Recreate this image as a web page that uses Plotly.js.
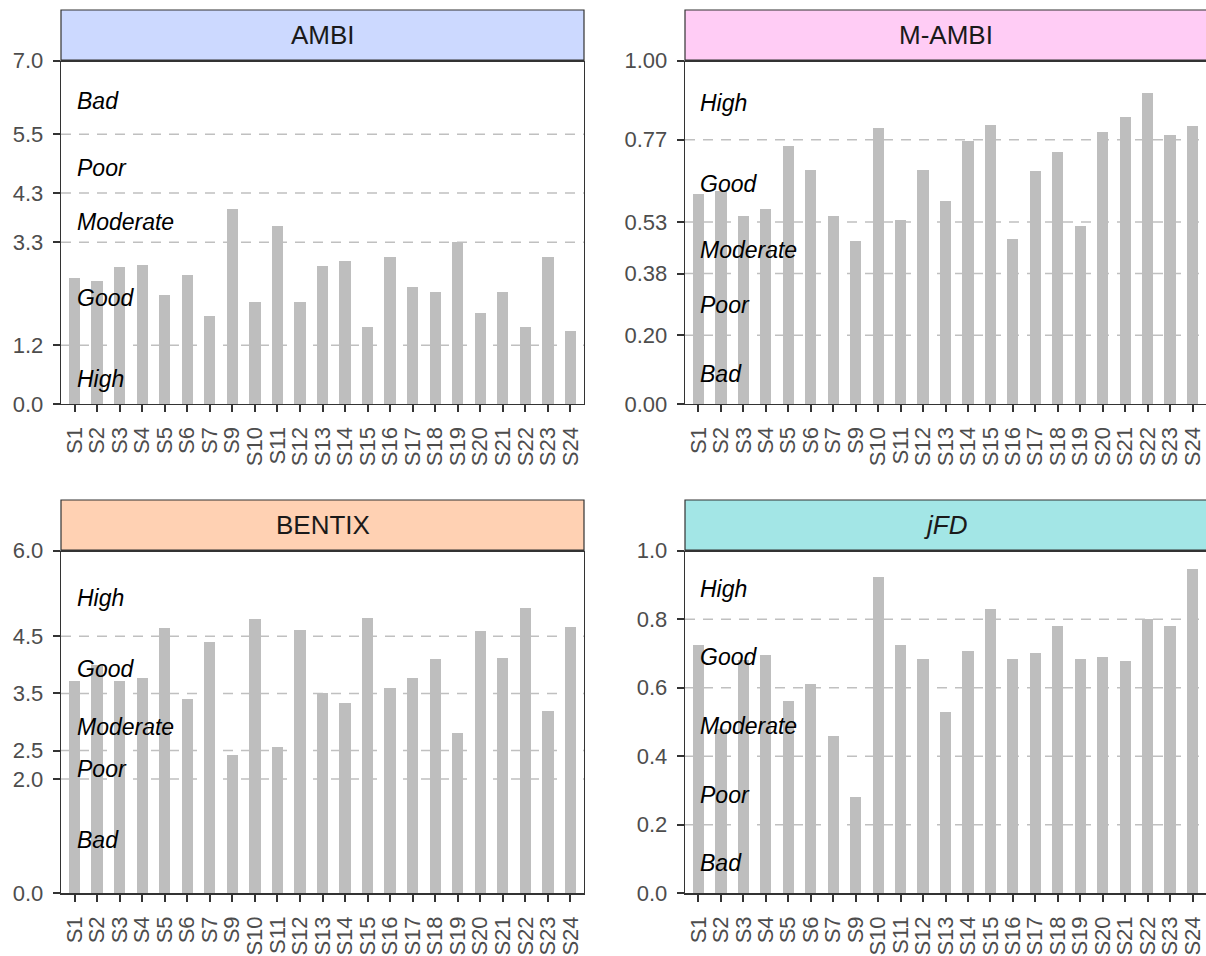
<!DOCTYPE html>
<html>
<head>
<meta charset="utf-8">
<script src="https://cdn.plot.ly/plotly-3.0.1.min.js"></script>
<style>
  html, body { margin: 0; padding: 0; background: #ffffff; }
  #chart { width: 1206px; height: 956px; }
</style>
</head>
<body>
<div id="chart"></div>
<script>
// ---------------- DATA ----------------
const categories = ['S1','S2','S3','S4','S5','S6','S7','S9','S10','S11','S12','S13','S14','S15','S16','S17','S18','S19','S20','S21','S22','S23','S24'];

const ambiValues   = [2.57, 2.50, 2.79, 2.83, 2.23, 2.64, 1.79, 3.98, 2.09, 3.63, 2.08, 2.81, 2.92, 1.58, 3.00, 2.39, 2.28, 3.30, 1.85, 2.29, 1.57, 3.00, 1.49];
const mambiValues  = [0.611, 0.620, 0.548, 0.568, 0.753, 0.683, 0.548, 0.475, 0.803, 0.535, 0.682, 0.591, 0.767, 0.813, 0.482, 0.679, 0.735, 0.519, 0.792, 0.836, 0.907, 0.785, 0.811];
const bentixValues = [3.72, 4.00, 3.72, 3.77, 4.64, 3.41, 4.40, 2.42, 4.80, 2.57, 4.61, 3.51, 3.33, 4.82, 3.60, 3.77, 4.10, 2.80, 4.59, 4.12, 5.00, 3.20, 4.67];
const jfdValues    = [0.725, 0.48, 0.68, 0.696, 0.562, 0.611, 0.460, 0.281, 0.923, 0.724, 0.684, 0.530, 0.708, 0.830, 0.684, 0.702, 0.779, 0.684, 0.690, 0.677, 0.800, 0.781, 0.946];

const panelTitles = ['AMBI', 'M-AMBI', 'BENTIX', '<i>jFD</i>'];

const ambiTicks   = [0, 1.2, 3.3, 4.3, 5.5, 7.0];
const mambiTicks  = [0, 0.20, 0.38, 0.53, 0.77, 1.00];
const bentixTicks = [0, 2.0, 2.5, 3.5, 4.5, 6.0];
const jfdTicks    = [0, 0.2, 0.4, 0.6, 0.8, 1.0];

const ambiThresholds   = [1.2, 3.3, 4.3, 5.5];
const mambiThresholds  = [0.20, 0.38, 0.53, 0.77];
const bentixThresholds = [2.0, 2.5, 3.5, 4.5];
const jfdThresholds    = [0.2, 0.4, 0.6, 0.8];

const ambiStatus   = ['High', 'Good', 'Moderate', 'Poor', 'Bad'];
const ambiStatusY  = [0.52, 2.17, 3.72, 4.82, 6.18];
const mambiStatus  = ['Bad', 'Poor', 'Moderate', 'Good', 'High'];
const mambiStatusY = [0.088, 0.288, 0.450, 0.640, 0.878];
const bentixStatus = ['Bad', 'Poor', 'Moderate', 'Good', 'High'];
const bentixStatusY= [0.93, 2.18, 2.92, 3.93, 5.18];
const jfdStatus    = ['Bad', 'Poor', 'Moderate', 'Good', 'High'];
const jfdStatusY   = [0.089, 0.288, 0.487, 0.691, 0.888];

// ---------------- LAYOUT ----------------
const W = 1206, H = 956;
const px = v => v / W;
const py = v => 1 - v / H;

const panels = [
  { vals: ambiValues,   ticks: ambiTicks,   dec: 1, range: [0, 7.0], thr: ambiThresholds,   st: ambiStatus,   stY: ambiStatusY,   xl: 61,  xr: 584,  yt: 60.7,  yb: 404,   stripTop: 10,  fill: '#CCD9FF' },
  { vals: mambiValues,  ticks: mambiTicks,  dec: 2, range: [0, 1.0], thr: mambiThresholds,  st: mambiStatus,  stY: mambiStatusY,  xl: 685, xr: 1206, yt: 60.7,  yb: 404,   stripTop: 10,  fill: '#FFCCF5' },
  { vals: bentixValues, ticks: bentixTicks, dec: 1, range: [0, 6.0], thr: bentixThresholds, st: bentixStatus, stY: bentixStatusY, xl: 61,  xr: 584,  yt: 550.7, yb: 893.3, stripTop: 500, fill: '#FFD1B3' },
  { vals: jfdValues,    ticks: jfdTicks,    dec: 1, range: [0, 1.0], thr: jfdThresholds,    st: jfdStatus,    stY: jfdStatusY,    xl: 685, xr: 1206, yt: 550.7, yb: 893.3, stripTop: 500, fill: '#A3E6E6' }
];

const FONT = 'Liberation Sans, Arial, sans-serif';
const traces = [];
const layout = {
  width: W, height: H,
  margin: { l: 0, r: 0, t: 0, b: 0 },
  paper_bgcolor: '#ffffff',
  plot_bgcolor: '#ffffff',
  showlegend: false,
  bargap: 0,
  font: { family: FONT, color: '#4D4D4D' },
  shapes: [],
  annotations: []
};

panels.forEach((p, i) => {
  const n = i === 0 ? '' : String(i + 1);
  const xa = 'x' + n, ya = 'y' + n;
  traces.push({
    type: 'bar',
    x: categories,
    y: p.vals,
    xaxis: xa, yaxis: ya,
    width: 0.5,
    marker: { color: '#BEBEBE', line: { width: 0 } },
    hoverinfo: 'x+y'
  });
  const rightEdge = p.xr >= 1206;
  layout['xaxis' + n] = {
    domain: [px(p.xl), Math.min(1, px(p.xr))],
    anchor: ya,
    type: 'category',
    categoryorder: 'array',
    categoryarray: categories,
    range: [-0.6, categories.length - 0.4],
    tickmode: 'array',
    tickvals: categories,
    ticktext: categories,
    tickangle: -90,
    ticks: 'outside', ticklen: 7, tickwidth: 2, tickcolor: '#333333',
    ticklabelstandoff: 6,
    tickfont: { family: FONT, size: 22, color: '#4D4D4D' },
    showline: true, linecolor: '#333333', linewidth: 1.3,
    mirror: false,
    showgrid: false, zeroline: false, fixedrange: true
  };
  layout['yaxis' + n] = {
    domain: [py(p.yb), py(p.yt)],
    anchor: xa,
    range: p.range,
    tickmode: 'array',
    tickvals: p.ticks,
    ticktext: p.ticks.map(v => v.toFixed(p.dec)),
    ticks: 'outside', ticklen: 7, tickwidth: 2, tickcolor: '#333333',
    ticklabelstandoff: 5,
    tickfont: { family: FONT, size: 22, color: '#4D4D4D' },
    showline: true, linecolor: '#333333', linewidth: 1.3,
    mirror: rightEdge ? false : true,
    showgrid: false, zeroline: false, fixedrange: true
  };

  // threshold dashed lines
  p.thr.forEach(t => {
    layout.shapes.push({
      type: 'line', layer: 'below',
      xref: xa + ' domain', yref: ya,
      x0: 0, x1: 1, y0: t, y1: t,
      line: { color: '#C0C0C0', width: 1.5, dash: '10px,8px' }
    });
  });

  // strip
  layout.shapes.push({
    type: 'rect', layer: 'above',
    xref: 'paper', yref: 'paper',
    x0: px(p.xl), x1: rightEdge ? 1.01 : px(p.xr),
    y0: py(p.yt), y1: py(p.stripTop),
    fillcolor: p.fill,
    line: { color: '#333333', width: 1.2 }
  });
  // thick line at top of panel
  layout.shapes.push({
    type: 'line', layer: 'above',
    xref: 'paper', yref: 'paper',
    x0: px(p.xl), x1: rightEdge ? 1.01 : px(p.xr),
    y0: py(p.yt), y1: py(p.yt),
    line: { color: '#333333', width: 2.6 }
  });
  layout.annotations.push({
    xref: 'paper', yref: 'paper',
    x: (px(p.xl) + px(p.xr)) / 2,
    y: (py(p.yt) + py(p.stripTop)) / 2,
    xanchor: 'center', yanchor: 'middle',
    text: panelTitles[i],
    showarrow: false,
    font: { family: FONT, size: 26, color: '#1A1A1A' }
  });

  // status labels
  p.st.forEach((s, k) => {
    layout.annotations.push({
      xref: xa, yref: ya,
      x: 0, y: p.stY[k],
      xanchor: 'left', yanchor: 'middle',
      text: '<i>' + s + '</i>',
      showarrow: false,
      font: { family: FONT, size: 23, color: '#000000' }
    });
  });
});

Plotly.newPlot('chart', traces, layout, { displayModeBar: false, staticPlot: true });
</script>
</body>
</html>
